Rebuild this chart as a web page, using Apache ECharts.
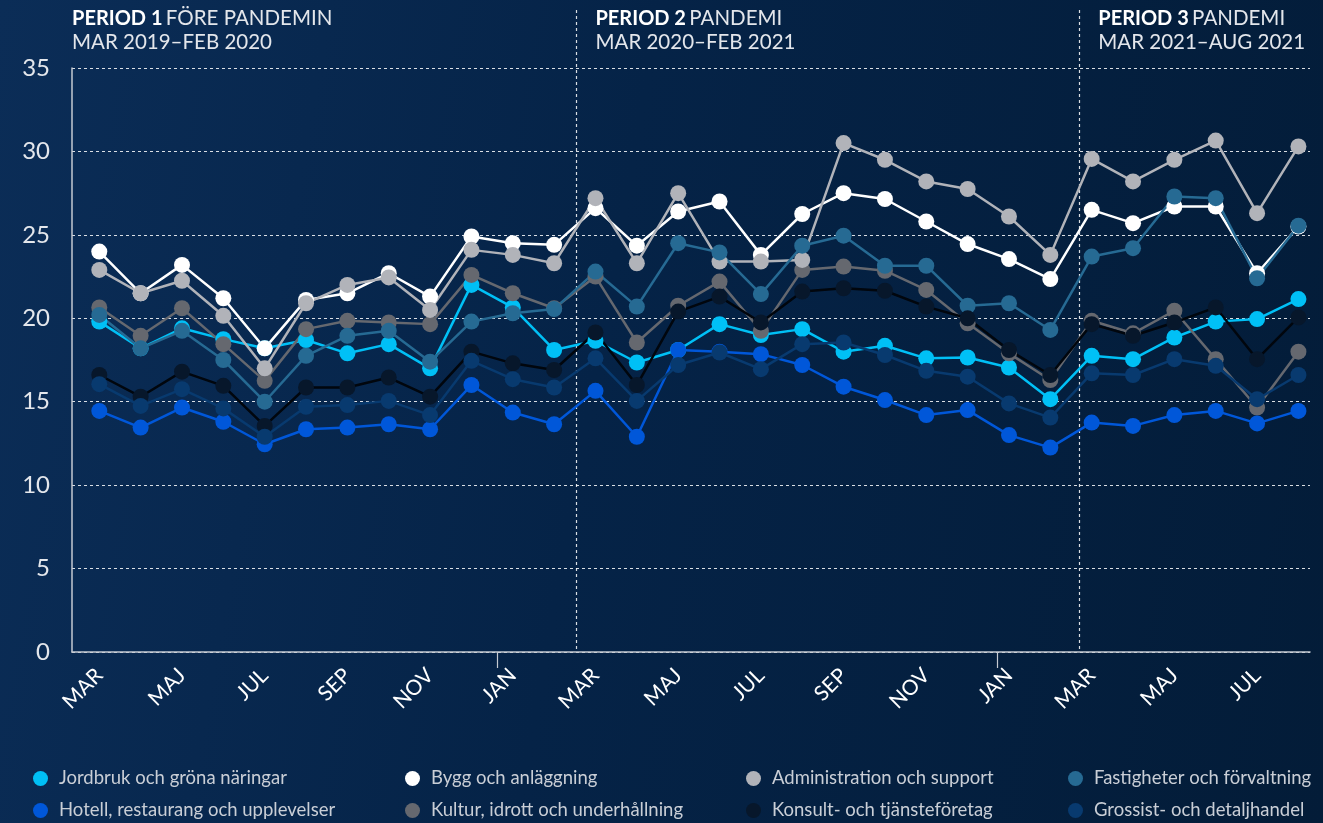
<!DOCTYPE html>
<html>
<head>
<meta charset="utf-8">
<script src="https://cdn.jsdelivr.net/npm/echarts@6/dist/echarts.min.js"></script>
<style>
  html, body { margin: 0; padding: 0; }
  body {
    width: 1323px; height: 823px;
    background: linear-gradient(100deg, #0b2d57 0%, #052347 45%, #031c38 100%);
  }
  #chart { width: 1323px; height: 823px; }
</style>
</head>
<body>
<div id="chart"></div>
<script>
// months, Mar 2019 - Aug 2021
const monthNames = ['MAR', 'APR', 'MAJ', 'JUN', 'JUL', 'AUG', 'SEP', 'OKT', 'NOV', 'DEC', 'JAN', 'FEB',
  'MAR', 'APR', 'MAJ', 'JUN', 'JUL', 'AUG', 'SEP', 'OKT', 'NOV', 'DEC', 'JAN', 'FEB',
  'MAR', 'APR', 'MAJ', 'JUN', 'JUL', 'AUG']
const labelMonths = [0, 2, 4, 6, 8, 10, 12, 14, 16, 18, 20, 22, 24, 26, 28]
const yearTicks = [9.63, 21.72]
const periodBreaks = [11.54, 23.7]

const jordbruk = [19.8, 18.2, 19.4, 18.75, 18.2, 18.7, 17.9, 18.45, 17.0, 22.0, 20.65, 18.1, 18.65, 17.35, 18.1, 19.65, 19.0, 19.35, 18.0, 18.35, 17.6, 17.65, 17.05, 15.15, 17.75, 17.55, 18.85, 19.8, 19.95, 21.15]
const bygg = [24.0, 21.5, 23.2, 21.2, 18.2, 21.1, 21.5, 22.7, 21.3, 24.9, 24.5, 24.4, 26.6, 24.35, 26.4, 27.0, 23.8, 26.25, 27.5, 27.15, 25.8, 24.45, 23.55, 22.35, 26.5, 25.7, 26.7, 26.7, 22.7, 25.5]
const administration = [22.9, 21.5, 22.25, 20.15, 17.0, 20.9, 22.0, 22.45, 20.5, 24.1, 23.8, 23.3, 27.2, 23.3, 27.5, 23.4, 23.4, 23.5, 30.5, 29.5, 28.2, 27.75, 26.1, 23.8, 29.55, 28.2, 29.5, 30.65, 26.3, 30.3]
const fastigheter = [20.2, 18.2, 19.25, 17.5, 15.0, 17.75, 18.95, 19.25, 17.4, 19.8, 20.3, 20.55, 22.8, 20.7, 24.5, 23.95, 21.45, 24.35, 24.95, 23.15, 23.15, 20.75, 20.9, 19.3, 23.7, 24.2, 27.3, 27.2, 22.4, 25.55]
const hotell = [14.45, 13.45, 14.65, 13.8, 12.45, 13.35, 13.45, 13.65, 13.35, 16.0, 14.35, 13.65, 15.65, 12.9, 18.1, 18.0, 17.85, 17.2, 15.9, 15.1, 14.2, 14.5, 13.0, 12.25, 13.75, 13.55, 14.2, 14.45, 13.7, 14.45]
const kultur = [20.65, 18.95, 20.6, 18.45, 16.25, 19.35, 19.85, 19.75, 19.65, 22.6, 21.5, 20.6, 22.5, 18.55, 20.75, 22.2, 19.25, 22.9, 23.1, 22.85, 21.7, 19.7, 17.9, 16.3, 19.85, 19.1, 20.45, 17.55, 14.65, 18.0]
const konsult = [16.6, 15.3, 16.8, 15.95, 13.55, 15.85, 15.85, 16.45, 15.3, 18.0, 17.3, 16.9, 19.15, 16.0, 20.4, 21.3, 19.75, 21.6, 21.8, 21.65, 20.7, 20.0, 18.1, 16.6, 19.65, 18.95, 19.75, 20.65, 17.55, 20.05]
const grossist = [16.05, 14.75, 15.75, 14.6, 12.9, 14.7, 14.8, 15.05, 14.2, 17.45, 16.35, 15.85, 17.6, 15.05, 17.2, 17.95, 16.95, 18.45, 18.55, 17.8, 16.85, 16.5, 14.9, 14.05, 16.7, 16.6, 17.55, 17.15, 15.15, 16.6]

const periods = [
  { bold: 'PERIOD 1', name: 'FÖRE PANDEMIN', range: 'MAR 2019–FEB 2020' },
  { bold: 'PERIOD 2', name: 'PANDEMI', range: 'MAR 2020–FEB 2021' },
  { bold: 'PERIOD 3', name: 'PANDEMI', range: 'MAR 2021–AUG 2021' }
]

const FONT = 'Lato, "Noto Sans", sans-serif'

// draw order bottom -> top
const seriesDefs = [
  { name: 'Jordbruk och gröna näringar', data: jordbruk, color: '#00c0f6' },
  { name: 'Bygg och anläggning', data: bygg, color: '#ffffff' },
  { name: 'Kultur, idrott och underhållning', data: kultur, color: '#65686f' },
  { name: 'Administration och support', data: administration, color: '#b1b3b9' },
  { name: 'Fastigheter och förvaltning', data: fastigheter, color: '#266a93' },
  { name: 'Hotell, restaurang och upplevelser', data: hotell, color: '#0057d9' },
  { name: 'Konsult- och tjänsteföretag', data: konsult, color: '#07172b', line: '#01060d' },
  { name: 'Grossist- och detaljhandel', data: grossist, color: '#083a6f' }
]

// legend grid: 4 columns x 2 rows
const legendRows = [
  ['Jordbruk och gröna näringar', 'Bygg och anläggning', 'Administration och support', 'Fastigheter och förvaltning'],
  ['Hotell, restaurang och upplevelser', 'Kultur, idrott och underhållning', 'Konsult- och tjänsteföretag', 'Grossist- och detaljhandel']
]
const legendLeft = [33, 405, 746, 1068]
const legendTop = [769, 801]

const legends = []
legendRows.forEach((row, r) => {
  row.forEach((name, c) => {
    legends.push({
      data: [name],
      left: legendLeft[c],
      top: legendTop[r],
      padding: 0,
      icon: 'circle',
      itemWidth: 15,
      itemHeight: 15,
      selectedMode: false,
      textStyle: { color: '#c9ced6', fontSize: 18.5, fontFamily: FONT, padding: [0, 0, 0, 6] }
    })
  })
})

const chart = echarts.init(document.getElementById('chart'))

const option = {
  backgroundColor: 'transparent',
  animation: false,
  textStyle: { fontFamily: FONT },
  grid: { left: 72, right: 13, top: 68, bottom: 171 },
  legend: legends,
  xAxis: {
    type: 'value',
    min: -0.66,
    max: 29.28,
    splitLine: { show: false },
    axisLine: { show: true, onZero: false, lineStyle: { color: '#c5cad2', width: 1.5 } },
    axisTick: { show: true, customValues: yearTicks, length: 16, lineStyle: { color: '#c5cad2', width: 1.2 } },
    axisLabel: {
      customValues: labelMonths,
      formatter: v => monthNames[Math.round(v)],
      rotate: 45,
      margin: 20,
      color: '#ffffff',
      fontSize: 21,
      fontFamily: FONT
    }
  },
  yAxis: {
    type: 'value',
    min: 0,
    max: 35,
    interval: 5,
    axisLine: { show: true, onZero: false, lineStyle: { color: '#c5cad2', width: 1.5 } },
    axisTick: { show: false },
    axisLabel: { color: '#e4e7ec', fontSize: 24, margin: 22, fontFamily: FONT },
    splitLine: { show: true, lineStyle: { color: 'rgba(255,255,255,0.85)', type: [3, 3], width: 1 } }
  },
  series: seriesDefs.map(s => ({
    name: s.name,
    type: 'line',
    data: s.data.map((v, i) => [i, v]),
    symbol: 'circle',
    symbolSize: 16,
    showSymbol: true,
    color: s.color,
    itemStyle: { color: s.color },
    lineStyle: { color: s.line || s.color, width: 2.5 },
    emphasis: { disabled: true }
  }))
}

chart.setOption(option)

// period separators and headings
const y0 = chart.convertToPixel({ yAxisIndex: 0 }, 0)
const headerX = [72].concat(periodBreaks.map(b => chart.convertToPixel({ xAxisIndex: 0 }, b) + 19))
const graphics = []
periodBreaks.forEach(b => {
  const x = Math.round(chart.convertToPixel({ xAxisIndex: 0 }, b)) + 0.5
  graphics.push({
    type: 'line',
    shape: { x1: x, y1: 10, x2: x, y2: y0 },
    style: { stroke: 'rgba(255,255,255,0.85)', lineWidth: 1.2, lineDash: [3, 3] },
    silent: true
  })
})
periods.forEach((p, i) => {
  graphics.push({
    type: 'text',
    left: headerX[i],
    top: 8,
    style: {
      text: '{b|' + p.bold + '} {l|' + p.name + '}\n{l|' + p.range + '}',
      rich: {
        b: { fontSize: 20, fontWeight: 'bold', fill: '#ffffff', fontFamily: FONT, lineHeight: 24 },
        l: { fontSize: 20.5, fill: '#e3e6eb', fontFamily: FONT, lineHeight: 24 }
      }
    },
    silent: true
  })
})
chart.setOption({ graphic: graphics })
</script>
</body>
</html>
